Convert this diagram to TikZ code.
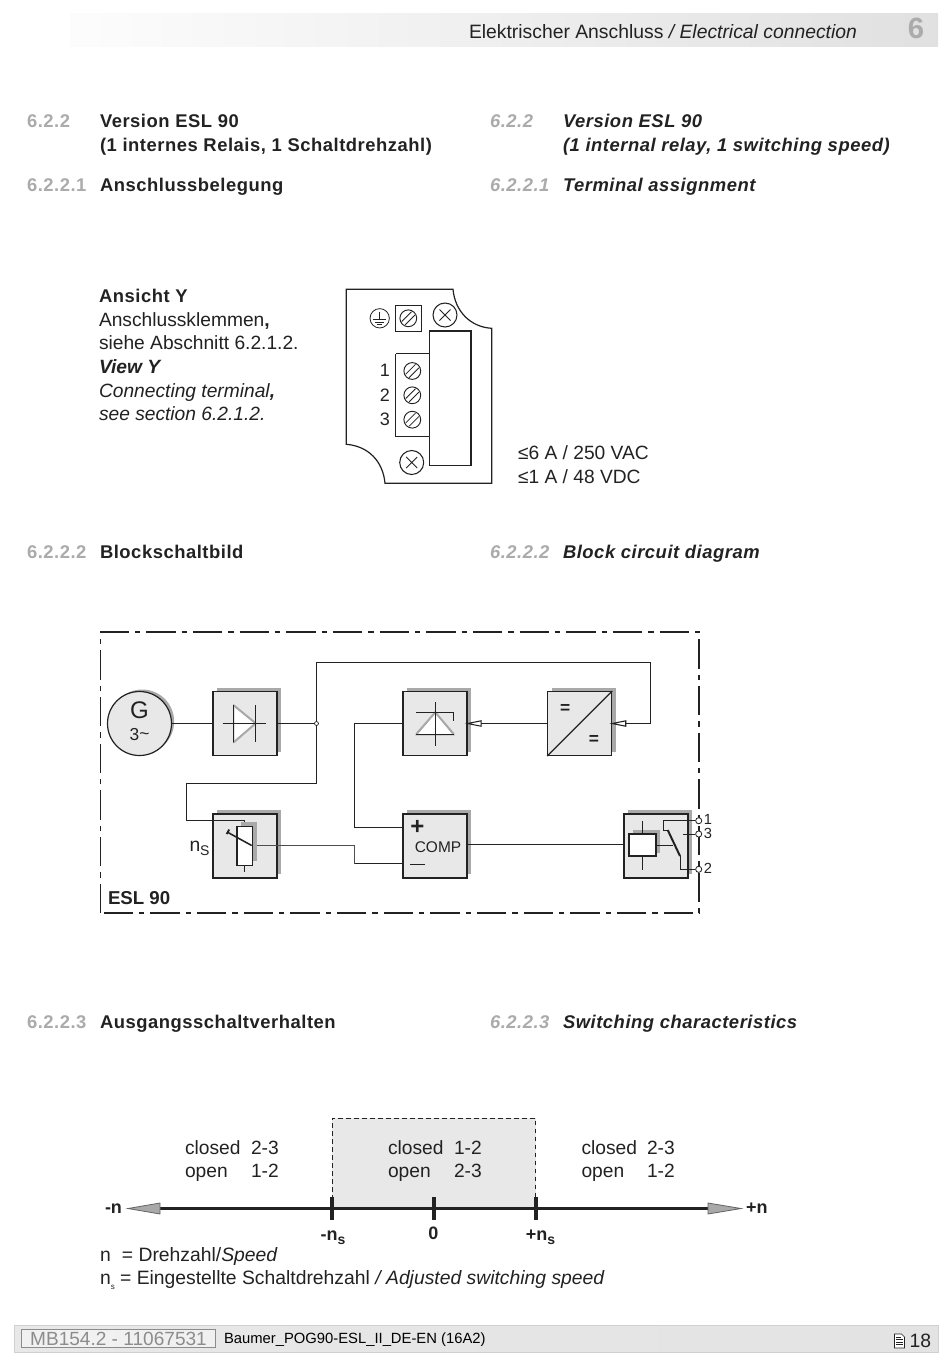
\documentclass[tikz,border=0pt]{standalone}
\usepackage{fontspec}
\setmainfont{Liberation Sans}
\newfontfamily\hdfont[LetterSpace=2.9]{Liberation Sans}
\usetikzlibrary{shadows,arrows.meta}
\definecolor{blockfill}{HTML}{E8E8E8}
\definecolor{shadowgray}{HTML}{A9A9A9}
\definecolor{numgray}{HTML}{ABABAB}
\definecolor{inkc}{HTML}{222222}
\newcommand{\bodyf}{\fontsize{14.4}{17}\selectfont}
\newcommand{\headf}{\hdfont\bfseries\fontsize{13.8}{16}\selectfont}
\newcommand{\subs}{\raisebox{-0.45ex}{\fontsize{10.5}{12}\selectfont s}}
\tikzset{
  px/.style={x=0.75pt,y=-0.75pt},
  txt/.style={anchor=base west,inner sep=0pt,outer sep=0pt,text=inkc,font=\bodyf},
  hd/.style={anchor=base west,inner sep=0pt,outer sep=0pt,text=inkc,font=\headf},
  num/.style={anchor=base west,inner sep=0pt,outer sep=0pt,text=numgray,font=\headf},
  ctxt/.style={anchor=base,inner sep=0pt,outer sep=0pt,text=inkc},
  blockbox/.style={draw=inkc,line width=1pt,fill=blockfill,minimum size=48pt,inner sep=0pt,
    general shadow={shadow xshift=3pt,shadow yshift=3pt,fill=shadowgray}},
  lightbox/.style={blockbox,line width=.8pt},
  wire/.style={draw=inkc,line width=1.15pt},
  thinwire/.style={draw=inkc!80,line width=0.6pt},
  sym/.style={draw=inkc,line width=0.6pt},
  graysym/.style={draw=shadowgray,line width=1.5pt},
  screw/.style={circle,draw=inkc,line width=0.7pt,fill=white,minimum size=12.6pt,inner sep=0pt},
  xcircle/.style={circle,draw=inkc,line width=0.8pt,fill=white,minimum size=18pt,inner sep=0pt},
  term/.style={circle,draw=inkc,line width=0.6pt,fill=white,minimum size=4.6pt,inner sep=0pt},
  frameline/.style={draw=inkc,line width=1.2pt,dash pattern=on 22pt off 4.5pt on 4pt off 4.5pt},
  opentip/.style={draw=inkc,line width=0.8pt,fill=white},
  axistip/.style={draw=inkc!70,line width=0.6pt,fill=shadowgray},
}
\begin{document}
\begin{tikzpicture}[px]
\useasboundingbox (0,0) rectangle (950,1364);
\fill[white] (0,0) rectangle (950,1364);
% header
\shade[left color=black!1,right color=black!12] (70,13) rectangle (938,46);
\node[txt,font=\fontsize{14.5}{17}\selectfont] (hdr) at (469,38) {Elektrischer Anschluss \textit{/ Electrical connection}};
\node[anchor=base,inner sep=0pt,text=numgray,font=\bfseries\fontsize{22}{24}\selectfont] (chap) at (916,38) {6};
% section heads
\node[num] (n1) at (27,127) {6.2.2};
\node[hd] (h1) at (100,127) {Version ESL 90};
\node[hd] (h1b) at (100,151) {(1 internes Relais, 1 Schaltdrehzahl)};
\node[num] (n2) at (27,191) {6.2.2.1};
\node[hd] (h2) at (100,191) {Anschlussbelegung};
\node[num] (n3) at (490,127) {\itshape 6.2.2};
\node[hd] (h3) at (563,127) {\itshape Version ESL 90};
\node[hd] (h3b) at (563,151) {\itshape (1 internal relay, 1 switching speed)};
\node[num] (n4) at (490,191) {\itshape 6.2.2.1};
\node[hd] (h4) at (563,191) {\itshape Terminal assignment};
\node[num] (n5) at (27,558) {6.2.2.2};
\node[hd] (h5) at (100,558) {Blockschaltbild};
\node[num] (n6) at (490,558) {\itshape 6.2.2.2};
\node[hd] (h6) at (563,558) {\itshape Block circuit diagram};
\node[num] (n7) at (27,1028) {6.2.2.3};
\node[hd] (h7) at (100,1028) {Ausgangsschaltverhalten};
\node[num] (n8) at (490,1028) {\itshape 6.2.2.3};
\node[hd] (h8) at (563,1028) {\itshape Switching characteristics};
% view text
\node[hd] (v1) at (99,302) {Ansicht Y};
\node[txt] (v2) at (99,326) {Anschlussklemmen\textbf{,}};
\node[txt] (v3) at (99,349) {siehe Abschnitt 6.2.1.2.};
\node[txt,font=\bodyf\bfseries\itshape] (v4) at (99,373) {View Y};
\node[txt] (v5) at (99,397) {\itshape Connecting terminal\textbf{,}};
\node[txt] (v6) at (99,420) {\itshape see section 6.2.1.2.};
\node[txt] (r1) at (518,459) {≤6 A / 250 VAC};
\node[txt] (r2) at (518,483) {≤1 A / 48 VDC};
% terminal plate
\draw[inkc,line width=0.9pt] (346.3,289.3) -- (453,289.3) .. controls (455,311) and (470,327) .. (491.7,328.3)
  -- (491.7,483.3) -- (385,483.3) .. controls (383,461) and (368,446) .. (346.3,444.3) -- cycle;
\draw[inkc,line width=0.9pt,fill=white] (429.3,331) rectangle (471.3,465.3);
\draw[inkc,line width=1.6pt] (471.3,331) -- (471.3,465.3);
\draw[inkc,line width=0.9pt,fill=white] (395.7,353.7) -- (429.3,353.7) (429.3,436.3) -- (395.7,436.3) -- (395.7,353.7);
\draw[inkc,line width=1pt] (395.7,305.3) rectangle (421.3,331.3);
\foreach \nm/\px/\py in {sa/408.3/318.3,sb/412.3/371,sc/412.3/395.3,sd/412.3/419.7}{
  \node[screw] (\nm) at (\px,\py) {};
  \draw[inkc,line width=0.6pt] (\px,\py) ++(-6.6,3.2) -- ++(9.8,-9.8) (\px,\py) ++(-3.2,6.6) -- ++(9.8,-9.8);
}
\node[xcircle] (xa) at (445,315) {};
\node[xcircle] (xb) at (411.7,462.5) {};
\draw[inkc,line width=0.6pt] (445,315) ++(-5.5,-5.5) -- ++(11,11) ++(-11,0) -- ++(11,-11);
\draw[inkc,line width=0.6pt] (411.7,462.5) ++(-5.5,-5.5) -- ++(11,11) ++(-11,0) -- ++(11,-11);
\node[circle,draw=inkc,line width=0.6pt,minimum size=14.5pt,inner sep=0pt] (earth) at (379.7,318.3) {};
\draw[inkc,line width=0.6pt] (379.7,311.5) -- (379.7,319.5) (373,319.5) -- (386.4,319.5) (375.2,322) -- (384.2,322) (377.2,324.5) -- (382.2,324.5);
\node[ctxt,font=\fontsize{13.5}{15}\selectfont] (ta) at (385,376.5) {1};
\node[ctxt,font=\fontsize{13.5}{15}\selectfont] (tb) at (385,401) {2};
\node[ctxt,font=\fontsize{13.5}{15}\selectfont] (tc) at (385,425) {3};
% block diagram frame
\draw[frameline] (100.5,913) -- (100.5,632) -- (699,632) -- (699,913) -- cycle;
\node[txt,font=\bfseries\fontsize{14}{16}\selectfont] (esl) at (108,904) {ESL 90};
% blocks
\node[circle,draw=inkc,line width=0.9pt,fill=blockfill,minimum size=48pt,inner sep=0pt,
  general shadow={shadow xshift=2pt,shadow yshift=1.5pt,fill=shadowgray}] (gen) at (139.5,723.5) {};
\node[ctxt,font=\fontsize{18}{20}\selectfont] (gtxt) at (139.5,718) {G};
\node[ctxt,font=\fontsize{13}{15}\selectfont] (gsub) at (139.5,740) {3\raisebox{0.1ex}{\textasciitilde}};
\node[blockbox] (rect) at (245,723.5) {};
\node[blockbox] (pot) at (245,846) {};
\node[lightbox] (zd) at (435,723.5) {};
\node[lightbox] (dc) at (579.7,723.5) {};
\node[lightbox] (comp) at (435,846) {};
\node[blockbox] (rel) at (656,846) {};
% wire coordinates
\coordinate (jn) at (316.5,723.5);
\coordinate (up) at (316.5,662.5);
\coordinate (ur) at (650.5,662.5);
\coordinate (dcin) at (650.5,723.5);
\coordinate (dn) at (316.5,783.5);
\coordinate (lf) at (186.5,783.5);
\coordinate (lf2) at (186.5,820.5);
\coordinate (pottop) at (244.5,820.5);
\coordinate (pott) at (244.5,826.3);
\coordinate (busa) at (354.5,723.5);
\coordinate (busb) at (354.5,827.5);
\coordinate (wip) at (251.7,845.5);
\coordinate (wa) at (354.5,845.5);
\coordinate (wb) at (354.5,863.5);
\coordinate (compp) at (403,827.5);
\coordinate (compm) at (403,863.5);
\coordinate (crel) at (500,844.5);
\draw[wire] (gen.east) -- (rect.west);
\draw[wire] (rect.east |- jn) -- (jn);
\draw[wire] (dn) -- (up) -- (ur) -- (dcin) -- (dc.east |- dcin);
\draw[wire] (dn) -- (lf) -- (lf2);
\draw[wire,line width=.8pt] (lf2) -- (pottop) -- (pott);
\draw[wire] (dc.west |- dcin) -- (zd.east |- dcin);
\draw[wire] (zd.west |- busa) -- (busa) -- (busb) -- (compp);
\draw[wire] (comp.east |- crel) -- (rel.west |- crel);
\draw[thinwire] (wip) -- (wa) -- (wb);
\draw[wire] (wb) -- (compm);
\node[circle,draw=inkc,line width=0.5pt,fill=white,minimum size=3pt,inner sep=0pt] (jdot) at (jn) {};
\draw[opentip] (zd.east |- dcin) -- ++(13.5,-2.7) -- ++(0,5.4) -- cycle;
\draw[opentip] (dc.east |- dcin) -- ++(13.5,-2.7) -- ++(0,5.4) -- cycle;
% rectifier symbol
\draw[sym,fill=white] (233.7,705.3) -- (233.7,742.3) -- (255.7,723.3) -- cycle;
\draw[graysym] (233.7,742.3) -- (255.7,723.3) (233.7,705.3) -- (255.7,723.3);
\draw[sym] (233.7,705.3) -- (233.7,742.3) (255.7,705) -- (255.7,742.3) (222.7,723.5) -- (266,723.5);
% potentiometer
\fill[shadowgray] (241,822) rectangle (256.5,861);
\draw[sym,fill=white,line width=.8pt] (237,826.3) rectangle (252.7,865.3);
\draw[sym,line width=.8pt] (244.5,865.3) -- (244.5,872);
\draw[wire] (227.7,832.3) -- (wip);
\draw[wire,line width=1.4pt] (229.2,829.5) -- (226.7,834);
\node[ctxt,font=\fontsize{14.5}{17}\selectfont] (nsn) at (195,851.7) {n};
\node[ctxt,font=\fontsize{10.5}{12}\selectfont] (nss) at (204.8,855.7) {S};
% zener symbol
\draw[sym,fill=white] (435.3,712.3) -- (416.3,734.7) -- (453.7,734.7) -- cycle;
\draw[graysym] (416.3,734) -- (435.3,712.3) -- (453.7,734);
\draw[sym] (416.3,734.7) -- (453.7,734.7) (435.3,702.3) -- (435.3,745.7) (416.3,712.7) -- (453.7,712.7) -- (453.7,720.7);
% dc/dc
\draw[sym,line width=.9pt] (dc.south west) -- (dc.north east);
\node[ctxt,font=\bfseries\fontsize{13}{15}\selectfont] (eqa) at (565.3,713.5) {=};
\node[ctxt,font=\bfseries\fontsize{13}{15}\selectfont] (eqb) at (594,744) {=};
% comp
\node[ctxt,font=\fontsize{18}{20}\selectfont\bfseries] (cplus) at (417.3,834.5) {+};
\node[ctxt,font=\fontsize{11.6}{14}\selectfont] (ctx) at (438,852.5) {COMP};
\draw[inkc,line width=.7pt] (410,864) -- (424.5,864);
% relay
\fill[shadowgray] (633,830.3) rectangle (660,852.5);
\draw[inkc,line width=1.3pt,fill=white] (629.3,833.7) rectangle (656,856.3);
\draw[inkc,line width=1pt] (642.7,821) -- (642.7,833.7) (642.7,856.3) -- (642.7,869.7);
\draw[sym] (656,845) -- (672.7,845);
\coordinate (bla) at (667.7,830);
\coordinate (blb) at (680,856);
\draw[inkc,line width=1.5pt] (bla) -- (blb);
\node[term] (t1) at (698.7,820.7) {};
\node[term] (t3) at (698.7,834) {};
\node[term] (t2) at (698.7,869.3) {};
\draw[sym] (t1) -- (663.3,820.7) -- (663.3,830) -- (bla);
\draw[sym] (t3) -- (683.3,834);
\draw[sym] (blb) -- (680,869.3) -- (t2);
\node[ctxt,font=\fontsize{11}{13}\selectfont] (lt1) at (708,824) {1};
\node[ctxt,font=\fontsize{11}{13}\selectfont] (lt3) at (708,838) {3};
\node[ctxt,font=\fontsize{11}{13}\selectfont] (lt2) at (708,873.5) {2};
% switching characteristics
\fill[blockfill] (332,1118) rectangle (535.5,1208);
\draw[inkc,line width=.7pt,dash pattern=on 3.6pt off 2.4pt] (332,1208) -- (332,1118) -- (535.5,1118) -- (535.5,1208);
\coordinate (axl) at (160,1208.5);
\coordinate (axr) at (708,1208.5);
\draw[inkc,line width=1.7pt] (axl) -- (axr);
\draw[axistip] (axl) ++(0,-5.5) -- ++(-32,5.5) -- ++(32,5.5) -- cycle;
\draw[axistip] (axr) ++(0,-5.5) -- ++(33,5.5) -- ++(-33,5.5) -- cycle;
\foreach \tx in {332,434,536}{\draw[inkc,line width=2.7pt] (\tx,1197) -- (\tx,1220);}
\foreach \cx/\nx/\idx/\aa/\bb in {185/251/a/2-3/1-2,388/454/b/1-2/2-3,581.5/647/c/2-3/1-2}{
  \node[txt] (cl\idx) at (\cx,1154) {closed};
  \node[txt] (cn\idx) at (\nx,1154) {\aa};
  \node[txt] (op\idx) at (\cx,1177) {open};
  \node[txt] (on\idx) at (\nx,1177) {\bb};
}
\node[txt,font=\bfseries\fontsize{13.5}{15}\selectfont] (mn) at (105,1213) {-n};
\node[txt,font=\bfseries\fontsize{13.5}{15}\selectfont] (pn) at (746,1213) {+n};
\node[ctxt,font=\bfseries\fontsize{13.5}{15}\selectfont] (lm) at (333,1240) {-n\subs};
\node[ctxt,font=\bfseries\fontsize{13.5}{15}\selectfont] (l0) at (433.5,1239) {0};
\node[ctxt,font=\bfseries\fontsize{13.5}{15}\selectfont] (lp) at (540.5,1240) {+n\subs};
\node[txt,font=\fontsize{14.5}{17}\selectfont] (lg1) at (100,1261) {n\hspace{0.3em} = Drehzahl/\textit{Speed}};
\node[txt,font=\fontsize{14.5}{17}\selectfont] (lg2) at (100,1284.5) {n\raisebox{-0.5ex}{\fontsize{6}{7}\selectfont s} = Eingestellte Schaltdrehzahl \textit{/ Adjusted switching speed}};
% footer
\shade[left color=black!9,middle color=black!4,right color=black!11,draw=black!18,line width=.5pt] (14,1325) rectangle (938,1352);
\node[draw=black!45,line width=.6pt,fill=white,fill opacity=.4,text opacity=1,minimum width=146pt,minimum height=14pt,inner sep=0pt,text=black!45,font=\fontsize{14.3}{16}\selectfont] (doc) at (118.5,1338.5) {MB154.2 - 11067531};
\node[txt,text=black,font=\fontsize{11.1}{12}\selectfont] (docn) at (224,1343.5) {Baumer\_POG90-ESL\_II\_DE-EN (16A2)};
\draw[inkc,line width=.5pt,fill=white] (894.5,1334) -- (901.5,1334) -- (904.5,1337) -- (904.5,1348) -- (894.5,1348) -- cycle;
\draw[inkc,line width=.5pt] (896,1337) -- (901,1337) (896,1339.5) -- (903,1339.5) (896,1342) -- (903,1342) (896,1344.5) -- (903,1344.5);
\node[txt,text=inkc,font=\fontsize{14.5}{16}\selectfont] (pg) at (909.5,1347.5) {18};
\end{tikzpicture}
\end{document}
